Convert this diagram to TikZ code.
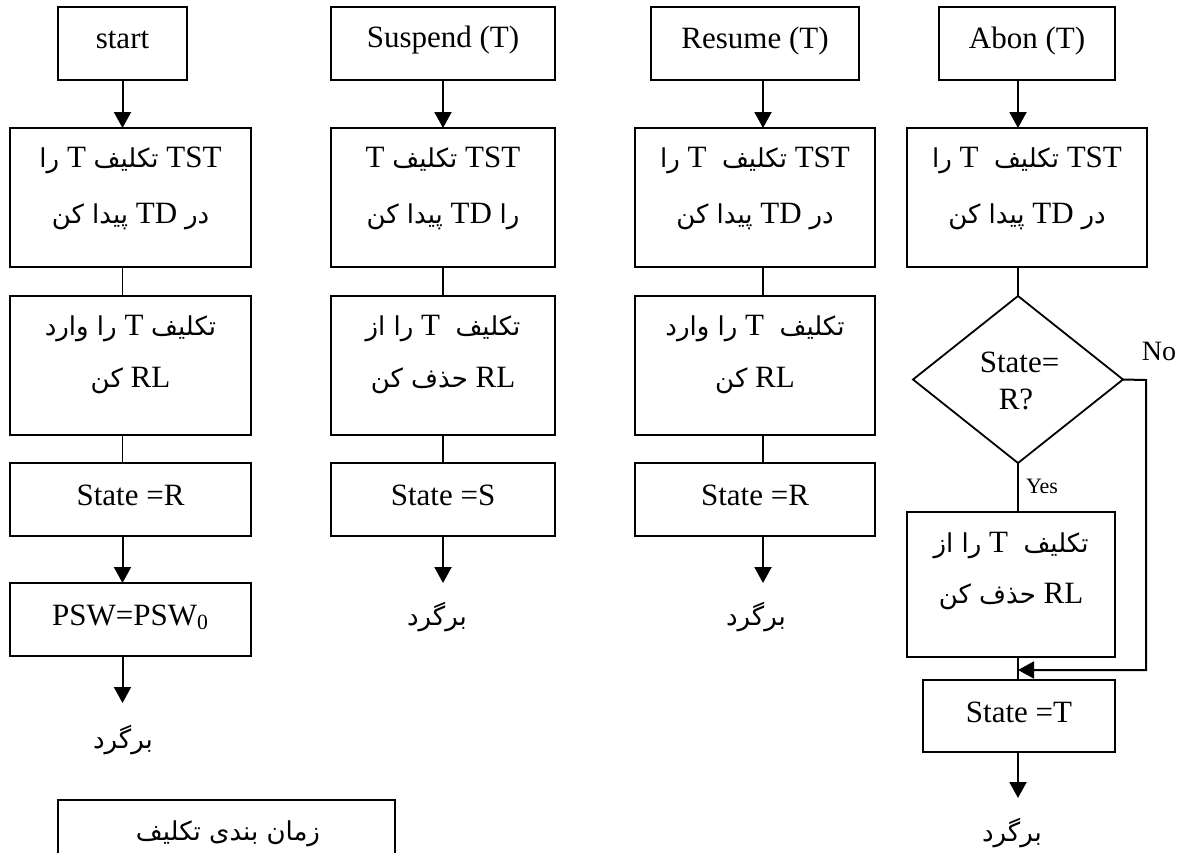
\documentclass[tikz,border=0pt]{standalone}
\usepackage{fontspec}
\setmainfont{Liberation Serif}
\newfontfamily\farsi[Script=Arabic]{DejaVu Sans}
\TeXXeTstate=1
\usetikzlibrary{arrows.meta,shapes.geometric}
% Persian words in a sans face, Latin words stay in the serif face
\newcommand\fa[1]{{\farsi\fontsize{13}{16}\selectfont #1}}
\newcommand\rtl[1]{\beginR #1\endR}
\tikzset{
  box/.style={draw, line width=0.9pt, inner sep=0pt, outer sep=0pt},
  decision/.style={box, diamond},
  txt/.style={inner sep=0pt, anchor=base, font=\fontsize{15.5}{18}\selectfont},
  smalltxt/.style={inner sep=0pt, anchor=base, font=\fontsize{11}{13}\selectfont},
  notxt/.style={inner sep=0pt, anchor=base, font=\fontsize{14}{16}\selectfont},
  fatxt/.style={inner sep=0pt, anchor=center},
  ln/.style={line width=0.85pt},
  arr/.style={line width=1pt, -{Triangle[width=8.5pt,length=8pt]}},
}
\begin{document}
\begin{tikzpicture}[x=0.5pt,y=-0.5pt]
\useasboundingbox (0,0) rectangle (1189,852);
\clip (0,0) rectangle (1189,852);

% ---------- start ----------
\node[box,minimum width=64.5pt,minimum height=36.5pt] (s1) at (122.5,43.5) {};
\node[txt] at (122.5,48) {start};
\node[box,minimum width=120.5pt,minimum height=69.5pt] (a1) at (130.5,197.5) {};
\node[txt] at (130.5,167) {\rtl{TST \fa{تکلیف} T \fa{را}}};
\node[txt] at (130.5,223) {\rtl{\fa{در} TD \fa{پیدا کن}}};
\node[box,minimum width=120.5pt,minimum height=69.5pt] (b1) at (130.5,365.5) {};
\node[txt] at (130.5,335) {\rtl{\fa{تکلیف} T \fa{را وارد}}};
\node[txt] at (130.5,387) {\rtl{RL \fa{کن}}};
\node[box,minimum width=120.5pt,minimum height=36.5pt] (c1) at (130.5,499.5) {};
\node[txt] at (130.5,505) {State =R};
\node[box,minimum width=120.5pt,minimum height=36.5pt] (d1) at (130.5,619.5) {};
\node[txt] at (130.5,625) {PSW=PSW\textsubscript{0}};
\coordinate (e1) at (122.5,703);
\node[fatxt] (r1) at (123,740) {\fa{برگرد}};

\draw[arr] (s1.south) -- (s1.south |- a1.north);
\draw[ln] (a1.south -| s1.south) -- (b1.north -| s1.south);
\draw[ln] (b1.south -| s1.south) -- (c1.north -| s1.south);
\draw[arr] (c1.south -| s1.south) -- (d1.north -| s1.south);
\draw[arr] (d1.south -| s1.south) -- (e1);

% scheduler box at the bottom
\node[box,minimum width=168.5pt,minimum height=50pt] (sch) at (226.5,850) {};
\node[fatxt] at (228,834) {\fa{\rtl{زمان بندی تکلیف}}};

% ---------- Suspend ----------
\node[box,minimum width=112pt,minimum height=36.5pt] (s2) at (443,43.5) {};
\node[txt] at (443,47) {Suspend (T)};
\node[box,minimum width=112pt,minimum height=69.5pt] (a2) at (443,197.5) {};
\node[txt] at (443,167) {\rtl{TST \fa{تکلیف} T}};
\node[txt] at (443,223) {\rtl{\fa{را} TD \fa{پیدا کن}}};
\node[box,minimum width=112pt,minimum height=69.5pt] (b2) at (443,365.5) {};
\node[txt] at (443,335) {\rtl{\fa{تکلیف}\ \ T \fa{را از}}};
\node[txt] at (443,387) {\rtl{RL \fa{حذف کن}}};
\node[box,minimum width=112pt,minimum height=36.5pt] (c2) at (443,499.5) {};
\node[txt] at (443,505) {State =S};
\coordinate (e2) at (443,583);
\node[fatxt] (r2) at (437,617) {\fa{برگرد}};

\draw[arr] (s2.south) -- (a2.north);
\draw[ln] (a2.south) -- (b2.north);
\draw[ln] (b2.south) -- (c2.north);
\draw[arr] (c2.south) -- (e2);

% ---------- Resume ----------
\coordinate (x3) at (763,0);
\node[box,minimum width=104pt,minimum height=36.5pt] (s3) at (755,43.5) {};
\node[txt] at (755,48) {Resume (T)};
\node[box,minimum width=120pt,minimum height=69.5pt] (a3) at (755,197.5) {};
\node[txt] at (755,167) {\rtl{TST \fa{تکلیف}\ \ T \fa{را}}};
\node[txt] at (755,223) {\rtl{\fa{در} TD \fa{پیدا کن}}};
\node[box,minimum width=120pt,minimum height=69.5pt] (b3) at (755,365.5) {};
\node[txt] at (755,335) {\rtl{\fa{تکلیف}\ \ T \fa{را وارد}}};
\node[txt] at (755,387) {\rtl{RL \fa{کن}}};
\node[box,minimum width=120pt,minimum height=36.5pt] (c3) at (755,499.5) {};
\node[txt] at (755,505) {State =R};
\coordinate (e3) at (763,583);
\node[fatxt] (r3) at (756,617) {\fa{برگرد}};

\draw[arr] (s3.south -| x3) -- (a3.north -| x3);
\draw[ln] (a3.south -| x3) -- (b3.north -| x3);
\draw[ln] (b3.south -| x3) -- (c3.north -| x3);
\draw[arr] (c3.south -| x3) -- (e3);

% ---------- Abon ----------
\coordinate (x4) at (1018,0);
\node[box,minimum width=88pt,minimum height=36.5pt] (s4) at (1027,43.5) {};
\node[txt] at (1027,48) {Abon (T)};
\node[box,minimum width=120pt,minimum height=69.5pt] (a4) at (1027,197.5) {};
\node[txt] at (1027,167) {\rtl{TST \fa{تکلیف}\ \ T \fa{را}}};
\node[txt] at (1027,223) {\rtl{\fa{در} TD \fa{پیدا کن}}};
\node[decision,minimum width=105pt,minimum height=83.5pt] (dm) at (1018,379.5) {};
\node[txt] at (1019.5,372) {State=};
\node[txt] at (1016,409) {R?};
\node[box,minimum width=104pt,minimum height=72.5pt] (e4) at (1011,584.5) {};
\node[txt] at (1011,552) {\rtl{\fa{تکلیف}\ \ T \fa{را از}}};
\node[txt] at (1011,603) {\rtl{RL \fa{حذف کن}}};
\node[box,minimum width=96pt,minimum height=36pt] (f4) at (1019,716) {};
\node[txt] at (1019,722) {State =T};
\coordinate (e4e) at (1018,798);
\node[fatxt] (r4) at (1012,833) {\fa{برگرد}};
\node[notxt] at (1159,360) {No};
\node[smalltxt] at (1042,493) {Yes};

\draw[arr] (s4.south -| x4) -- (a4.north -| x4);
\draw[ln] (a4.south -| x4) -- (dm.north);
\draw[ln] (dm.south) -- (e4.north -| dm.south);
\draw[ln] (e4.south -| dm.south) -- (f4.north -| dm.south);
\draw[arr] (f4.south -| dm.south) -- (e4e);
\coordinate (nx) at (1146,380);
\coordinate (jn) at (1018,670);
\draw[arr] (dm.east) -- (nx) -- (nx |- jn) -- (jn);
\end{tikzpicture}
\end{document}
